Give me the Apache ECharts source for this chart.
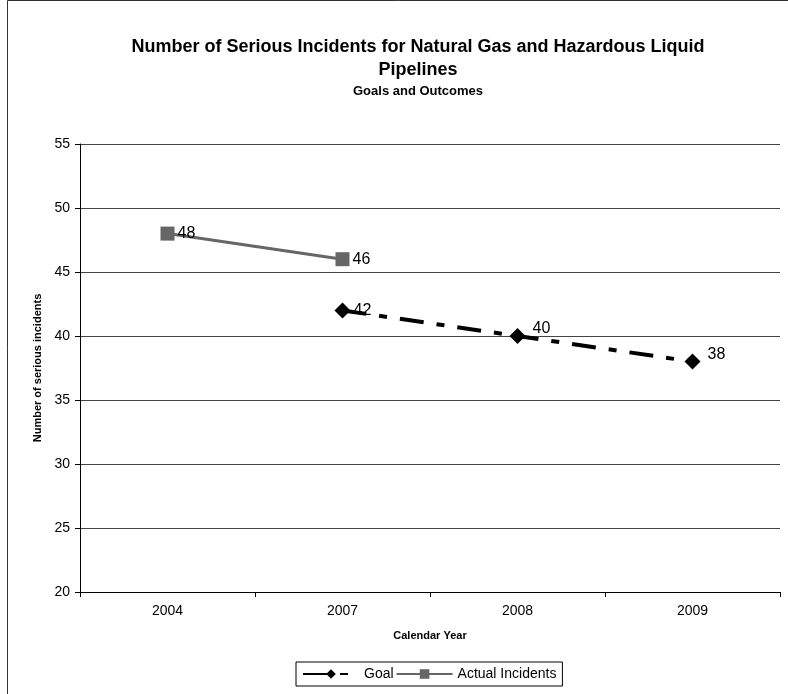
<!DOCTYPE html>
<html><head><meta charset="utf-8">
<script src="https://cdn.jsdelivr.net/npm/echarts@6/dist/echarts.min.js"></script>
<style>html,body{margin:0;padding:0;background:#fff}#c{width:788px;height:694px}</style>
</head><body><div id="c"></div>
<script>
var categories = ['2004', '2007', '2008', '2009'];
var goalValues = [null, 42, 40, 38];
var actualValues = [48, 46, null, null];
var yTicks = {min: 20, max: 55, interval: 5};

var chart = echarts.init(document.getElementById('c'), null, {renderer: 'canvas'});
var font = 'Arial, "Liberation Sans", sans-serif';
var goalData = goalValues.map(function (v, i) {
  return i >= 2 ? {value: v, label: {offset: [4, -7]}} : v;
});
chart.setOption({
  animation: false,
  backgroundColor: '#fff',
  graphic: [{
    type: 'rect', shape: {x: 7.5, y: 0.5, width: 800, height: 720},
    style: {fill: 'none', stroke: '#333', lineWidth: 1}, silent: true
  }],
  title: [{
    text: 'Number of Serious Incidents for Natural Gas and Hazardous Liquid\nPipelines',
    left: 413, top: 31, textAlign: 'center',
    textStyle: {fontFamily: font, fontSize: 18, fontWeight: 'bold', color: '#000', lineHeight: 23, align: 'center'}
  }, {
    text: 'Goals and Outcomes', left: 413, top: 80, textAlign: 'center',
    textStyle: {fontFamily: font, fontSize: 13, fontWeight: 'bold', color: '#000'}
  }],
  grid: {left: 80, top: 144, width: 700, height: 448, containLabel: false},
  legend: {
    orient: 'horizontal',
    left: 296, top: 662,
    padding: [5, 6, 5, 6],
    borderColor: '#000', borderWidth: 1,
    itemWidth: 56, itemHeight: 12, itemGap: 2,
    textStyle: {fontFamily: font, fontSize: 14, color: '#000'},
    data: ['Goal', 'Actual Incidents']
  },
  xAxis: {
    type: 'category', data: categories, boundaryGap: true,
    name: 'Calendar Year', nameLocation: 'middle', nameGap: 38,
    nameTextStyle: {fontFamily: font, fontSize: 11, fontWeight: 'bold', color: '#000'},
    axisLine: {lineStyle: {color: '#000', width: 1}},
    axisTick: {show: true, inside: false, length: 5, lineStyle: {color: '#000'}},
    axisLabel: {fontFamily: font, fontSize: 14, color: '#000', margin: 12},
    splitLine: {show: false}
  },
  yAxis: {
    type: 'value', min: yTicks.min, max: yTicks.max, interval: yTicks.interval,
    name: 'Number of serious incidents', nameLocation: 'middle', nameGap: 37, nameRotate: 90,
    nameTextStyle: {fontFamily: font, fontSize: 11, fontWeight: 'bold', color: '#000'},
    axisLine: {show: true, lineStyle: {color: '#000', width: 1}},
    axisTick: {show: true, length: 5, lineStyle: {color: '#000'}},
    axisLabel: {fontFamily: font, fontSize: 14, color: '#000', margin: 10},
    splitLine: {show: true, lineStyle: {color: '#444', width: 1}}
  },
  series: [{
    name: 'Goal', type: 'line', data: goalData,
    symbol: 'diamond', symbolSize: 16,
    itemStyle: {color: '#000'},
    lineStyle: {color: '#000', width: 4, type: [24, 13, 8, 13]},
    label: {show: true, position: 'right', distance: 3, fontFamily: font, fontSize: 16, color: '#000'}
  }, {
    name: 'Actual Incidents', type: 'line', data: actualValues,
    symbol: 'rect', symbolSize: 14,
    itemStyle: {color: '#666'},
    lineStyle: {color: '#666', width: 3, type: 'solid'},
    label: {show: true, position: 'right', distance: 3, fontFamily: font, fontSize: 16, color: '#000'}
  }]
});
</script>
</body></html>
